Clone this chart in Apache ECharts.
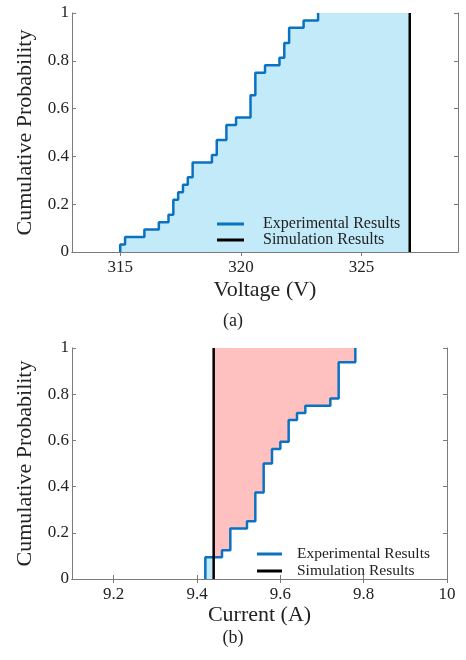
<!DOCTYPE html>
<html>
<head>
<meta charset="utf-8">
<title>CDF</title>
<script src="https://cdn.jsdelivr.net/npm/echarts@6/dist/echarts.min.js"></script>
<style>
  html, body { margin: 0; padding: 0; background: #fff; }
  #main { width: 466px; height: 660px; }
</style>
</head>
<body>
<div id="main"></div>
<script>
// (a) voltage: step positions and cumulative probability
var voltX = [315.0, 315.2, 316.0, 316.6, 317.0, 317.2, 317.4, 317.6, 317.8, 318.0, 318.8,
             319.0, 319.4, 319.8, 320.4, 320.6, 321.0, 321.6, 321.8, 322.0, 322.6, 323.2];
var voltP = [0.031, 0.063, 0.094, 0.125, 0.156, 0.219, 0.25, 0.281, 0.313, 0.375, 0.406,
             0.469, 0.531, 0.563, 0.656, 0.75, 0.781, 0.813, 0.875, 0.938, 0.969, 1];
var voltSim = 327;
var voltTicks = [315, 320, 325];

// (b) current
var currX = [9.42, 9.46, 9.48, 9.52, 9.54, 9.56, 9.58, 9.60, 9.62, 9.64, 9.66, 9.72, 9.74, 9.78];
var currP = [0.094, 0.125, 0.219, 0.25, 0.375, 0.5, 0.563, 0.594, 0.688, 0.719, 0.75, 0.781, 0.938, 1];
var currSim = 9.44;
var currTicks = [9.2, 9.4, 9.6, 9.8, 10];

var BLUE = '#0b72c1';
var FONT = 'Liberation Serif';
var FRAME = '#7a7a7a';
var TXT = '#222';

function ecdf(xs, ps) {
    var d = [[xs[0], 0]];
    for (var i = 0; i < xs.length; i++) d.push([xs[i], ps[i]]);
    return d;
}

// value of the ecdf just at x
function at(xs, ps, x) {
    var v = 0;
    for (var i = 0; i < xs.length; i++) if (xs[i] <= x) v = ps[i];
    return v;
}

var voltLine = ecdf(voltX, voltP);
var voltFill = voltLine.concat([[voltSim, 1]]);

var currLine = ecdf(currX, currP);
var simLevel = at(currX, currP, currSim);
var currBelow = [[currX[0], 0]];
var currAbove = [[currSim, simLevel]];
for (var i = 0; i < currX.length; i++) {
    if (currX[i] < currSim) currBelow.push([currX[i], currP[i]]);
    else currAbove.push([currX[i], currP[i]]);
}
currBelow.push([currSim, simLevel]);

function xAx(grid, min, max, ticks, top, name, gap) {
    return {
        type: 'value', gridIndex: grid, min: min, max: max,
        position: top ? 'top' : 'bottom',
        name: top ? '' : name, nameLocation: 'middle', nameGap: gap,
        nameTextStyle: { fontFamily: FONT, fontSize: 22, color: TXT },
        axisLine: { show: true, lineStyle: { color: FRAME, width: 1 } },
        axisTick: { show: true, inside: true, length: 4, customValues: ticks, lineStyle: { color: FRAME } },
        axisLabel: { show: !top, customValues: ticks, margin: 7, fontFamily: FONT, fontSize: 17, color: TXT },
        splitLine: { show: false }
    };
}

function yAx(grid, right, name) {
    return {
        type: 'value', gridIndex: grid, min: 0, max: 1, interval: 0.2,
        position: right ? 'right' : 'left',
        name: right ? '' : name, nameLocation: 'middle', nameGap: 36,
        nameTextStyle: { fontFamily: FONT, fontSize: 22, color: TXT },
        axisLine: { show: true, lineStyle: { color: FRAME, width: 1 } },
        axisTick: { show: true, inside: true, length: 4, lineStyle: { color: FRAME } },
        axisLabel: { show: !right, margin: 3, fontFamily: FONT, fontSize: 17, color: TXT },
        splitLine: { show: false }
    };
}

function fill(xi, yi, data, color, origin) {
    return {
        type: 'line', xAxisIndex: xi, yAxisIndex: yi, step: 'end', data: data,
        showSymbol: false, silent: true, lineStyle: { width: 0 },
        areaStyle: { color: color, opacity: 1, origin: origin }, z: 1
    };
}

function expLine(xi, yi, data) {
    return {
        name: 'Experimental Results', type: 'line', xAxisIndex: xi, yAxisIndex: yi,
        step: 'end', data: data, showSymbol: false, color: BLUE,
        lineStyle: { color: BLUE, width: 2.5 }, z: 3
    };
}

function simLine(xi, yi, x) {
    return {
        name: 'Simulation Results', type: 'line', xAxisIndex: xi, yAxisIndex: yi,
        data: [[x, 0], [x, 1]], showSymbol: false, color: '#000',
        lineStyle: { color: '#000', width: 2.5 }, z: 4
    };
}

function legend(left, top, w, size, gap, pad) {
    return {
        left: left, top: top, orient: 'vertical', icon: 'rect',
        itemWidth: w, itemHeight: 3, itemGap: gap,
        data: ['Experimental Results', 'Simulation Results'],
        textStyle: { fontFamily: FONT, fontSize: size, color: TXT, padding: [0, 0, 0, pad] }
    };
}

var chart = echarts.init(document.getElementById('main'));
chart.setOption({
    animation: false,
    backgroundColor: '#fff',
    grid: [
        { left: 72, top: 13, right: 8, height: 239 },
        { left: 72, top: 348, right: 19, height: 231 }
    ],
    xAxis: [
        xAx(0, 313, 329, voltTicks, false, 'Voltage (V)', 27),
        xAx(0, 313, 329, voltTicks, true),
        xAx(1, 9.1, 10, currTicks, false, 'Current (A)', 21),
        xAx(1, 9.1, 10, currTicks, true)
    ],
    yAxis: [
        yAx(0, false, 'Cumulative Probability'),
        yAx(0, true),
        yAx(1, false, 'Cumulative Probability'),
        yAx(1, true)
    ],
    legend: [
        legend(212, 211, 27, 16, 0, 14),
        legend(252, 541, 25, 15.5, 1, 10)
    ],
    graphic: [
        { type: 'text', left: 'center', top: 312, style: { text: '(a)', font: '18px "Liberation Serif"', fill: TXT } },
        { type: 'text', left: 'center', top: 629, style: { text: '(b)', font: '18px "Liberation Serif"', fill: TXT } }
    ],
    series: [
        fill(0, 0, voltFill, '#c2eaf8', 'start'),
        expLine(0, 0, voltLine),
        simLine(0, 0, voltSim),
        fill(2, 2, currBelow, '#c2eaf8', 'start'),
        fill(2, 2, currAbove, '#ffc0c0', 'end'),
        expLine(2, 2, currLine),
        simLine(2, 2, currSim)
    ]
});
</script>
</body>
</html>
